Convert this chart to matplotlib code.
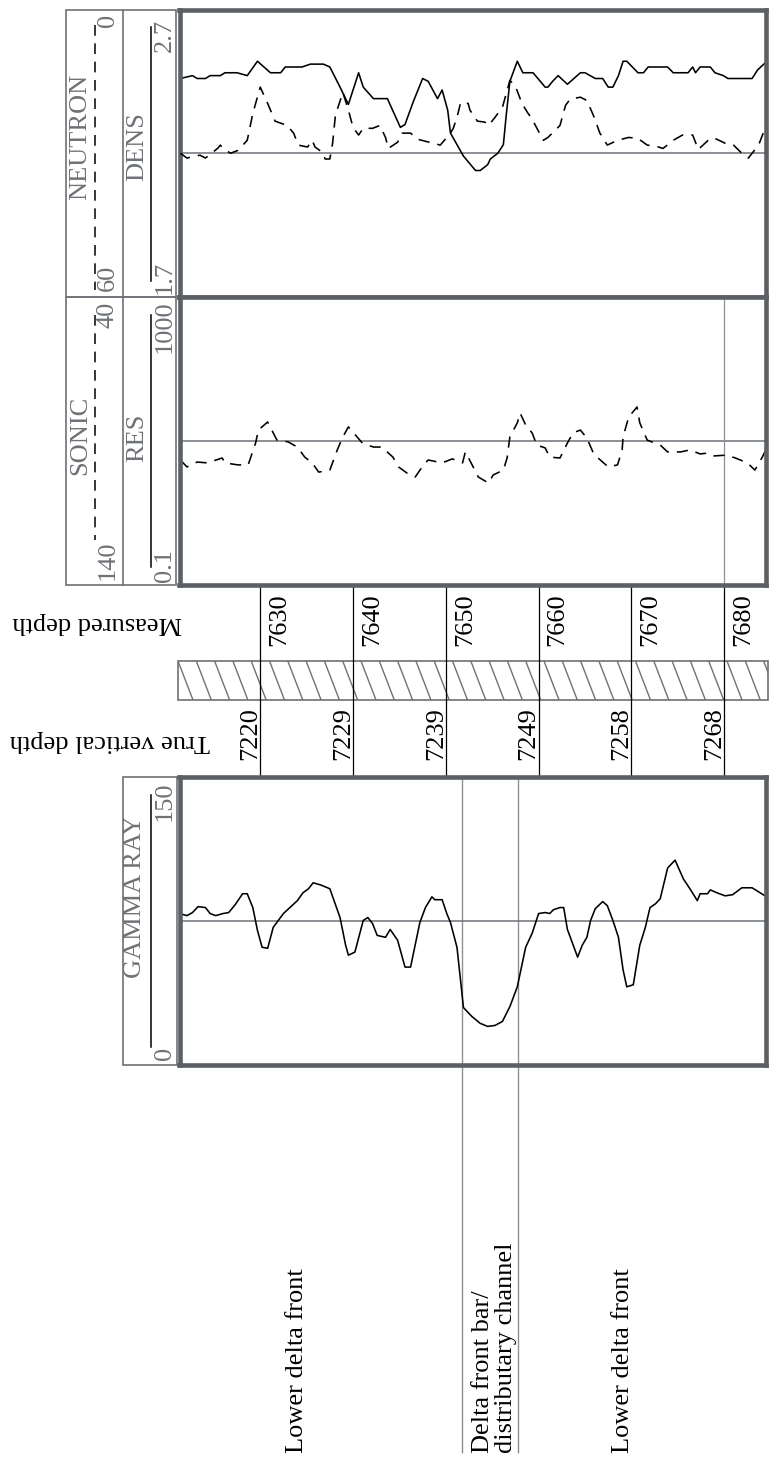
import numpy as np
import matplotlib
matplotlib.use('Agg')
import matplotlib.pyplot as plt
from matplotlib.patches import Rectangle
from matplotlib.lines import Line2D
from matplotlib.transforms import offset_copy

plt.rcParams['font.family'] = ['Liberation Serif', 'DejaVu Serif']

# ── depth scale / annotations ────────────────────────────────────────────
md_ticks = [7630, 7640, 7650, 7660, 7670, 7680]
tvd_labels = ['7220', '7229', '7239', '7249', '7258', '7268']
facies_tops = [7651.7, 7657.8]
facies_names = ['Lower delta front',
                'Delta front bar/\ndistributary channel',
                'Lower delta front']
facies_label_depth = [7634.0, 7655.2, 7669.1]

# ── density (g/cc) ───────────────────────────────────────────────────────
dens_depth = [7621.4, 7622.7, 7623.2, 7624.1, 7624.6, 7625.7, 7626.2, 7627.5,
              7628.6, 7629.7, 7631.1, 7632.2, 7632.7, 7634.5, 7635.4, 7636.8,
              7637.5, 7638.6, 7639.5, 7640.6, 7641.1, 7642.2, 7643.7, 7645.1,
              7645.6, 7646.5, 7647.5, 7648.1, 7649.1, 7649.6, 7650.2, 7650.5,
              7651.2, 7651.9, 7653.2, 7653.7, 7654.5, 7654.8, 7655.6, 7656.2,
              7656.5, 7656.9, 7657.7, 7658.3, 7659.4, 7660.7, 7661.0, 7661.5,
              7662.1, 7663.1, 7664.5, 7665.0, 7666.1, 7666.9, 7667.5, 7668.0,
              7668.6, 7669.1, 7669.5, 7670.7, 7671.3, 7671.8, 7673.9, 7674.5,
              7676.1, 7676.6, 7676.9, 7677.4, 7678.5, 7679.0, 7679.9, 7680.4,
              7683.0, 7683.6, 7684.6]
dens_val = [2.46, 2.47, 2.46, 2.46, 2.47, 2.47, 2.48, 2.48,
            2.47, 2.52, 2.48, 2.48, 2.50, 2.50, 2.51, 2.51,
            2.50, 2.43, 2.37, 2.48, 2.43, 2.39, 2.39, 2.29,
            2.30, 2.38, 2.46, 2.45, 2.39, 2.42, 2.35, 2.27,
            2.23, 2.19, 2.14, 2.14, 2.16, 2.18, 2.20, 2.23,
            2.33, 2.45, 2.52, 2.48, 2.48, 2.43, 2.43, 2.45,
            2.47, 2.44, 2.48, 2.48, 2.46, 2.46, 2.43, 2.43,
            2.47, 2.52, 2.52, 2.48, 2.48, 2.50, 2.50, 2.48,
            2.48, 2.50, 2.48, 2.50, 2.50, 2.48, 2.47, 2.46,
            2.46, 2.49, 2.52]

# ── neutron porosity (%) ─────────────────────────────────────────────────
neut_depth = [7621.4, 7622.1, 7623.5, 7624.1, 7625.4, 7625.7, 7626.0, 7626.8,
              7627.6, 7628.6, 7629.2, 7630.0, 7630.8, 7631.6, 7632.9, 7633.6,
              7634.1, 7635.1, 7635.6, 7635.9, 7636.7, 7637.0, 7637.5, 7637.8,
              7638.1, 7638.9, 7639.5, 7640.0, 7640.6, 7641.1, 7642.1, 7642.9,
              7643.5, 7643.8, 7644.8, 7645.3, 7646.2, 7647.0, 7648.6, 7649.4,
              7650.5, 7650.8, 7651.2, 7651.6, 7652.4, 7652.6, 7653.4, 7654.2,
              7654.6, 7655.3, 7656.1, 7656.6, 7656.9, 7657.5, 7658.2, 7658.8,
              7659.3, 7660.5, 7661.0, 7662.3, 7662.9, 7663.4, 7664.5, 7665.2,
              7665.9, 7666.6, 7667.4, 7668.5, 7669.7, 7670.7, 7671.7, 7672.6,
              7673.4, 7674.5, 7675.5, 7676.6, 7677.2, 7678.5, 7679.0, 7680.3,
              7681.0, 7682.0, 7682.6, 7683.0, 7683.7, 7684.2]
neut_val = [30.0, 31.0, 30.4, 31.0, 29.0, 28.3, 29.0, 30.0,
            29.4, 27.3, 21.7, 16.2, 19.6, 23.3, 24.2, 25.8,
            28.3, 28.7, 27.3, 28.7, 29.8, 31.2, 31.2, 27.9,
            22.1, 17.3, 21.0, 24.6, 26.2, 24.8, 24.8, 24.2,
            26.7, 29.0, 27.7, 25.8, 25.8, 27.1, 27.9, 28.3,
            25.8, 24.8, 22.5, 19.4, 19.6, 21.0, 23.3, 23.5,
            24.2, 22.5, 20.4, 16.9, 14.8, 16.0, 19.6, 21.5,
            22.9, 27.3, 26.7, 24.2, 20.0, 18.7, 18.3, 19.0,
            22.1, 25.8, 28.3, 27.3, 26.7, 26.9, 28.3, 28.5,
            29.0, 27.3, 26.2, 26.2, 29.2, 26.9, 26.9, 28.1,
            28.3, 30.2, 31.0, 30.0, 28.3, 25.8]

# ── sonic (us/ft) ────────────────────────────────────────────────────────
son_depth = [7621.4, 7622.1, 7623.2, 7624.3, 7625.9, 7626.2, 7627.6, 7628.7,
             7629.5, 7629.8, 7630.8, 7631.8, 7633.0, 7634.0, 7634.8, 7635.6,
             7636.3, 7637.5, 7638.3, 7638.9, 7639.5, 7641.0, 7642.2, 7643.1,
             7644.3, 7644.9, 7645.8, 7646.7, 7647.6, 7648.1, 7649.6, 7650.7,
             7651.8, 7652.1, 7652.4, 7653.5, 7654.6, 7655.1, 7656.2, 7656.6,
             7656.9, 7657.7, 7658.0, 7658.6, 7659.3, 7659.8, 7660.7, 7661.2,
             7662.3, 7663.1, 7663.7, 7664.5, 7665.2, 7665.9, 7666.4, 7667.5,
             7668.5, 7669.0, 7669.1, 7669.7, 7670.6, 7670.9, 7671.7, 7673.1,
             7673.9, 7675.3, 7676.3, 7677.4, 7678.2, 7678.8, 7680.3, 7681.2,
             7682.5, 7683.3, 7684.1, 7684.6]
son_val = [96.6, 99.0, 97.3, 97.6, 95.9, 97.6, 98.3, 98.3,
           90.7, 86.2, 83.4, 89.7, 90.3, 92.1, 95.6, 97.6,
           100.8, 100.1, 93.1, 88.6, 85.1, 90.7, 92.1, 92.1,
           95.6, 99.0, 101.1, 102.5, 98.3, 96.6, 97.6, 96.2,
           97.6, 93.8, 95.6, 102.5, 104.6, 101.8, 100.1, 95.9,
           88.6, 83.7, 80.3, 84.4, 87.2, 91.4, 92.4, 95.6,
           95.9, 90.7, 87.2, 86.2, 89.0, 94.2, 95.9, 99.0,
           98.3, 93.1, 88.6, 81.7, 78.2, 83.7, 89.7, 91.4,
           93.8, 93.8, 93.1, 94.5, 94.2, 95.2, 94.9, 95.9,
           97.6, 100.1, 95.6, 92.4]

# ── gamma ray (API) ──────────────────────────────────────────────────────
gr_depth = [7621.3, 7622.1, 7622.7, 7623.3, 7624.1, 7624.6, 7625.2, 7626.0,
            7626.6, 7627.3, 7628.1, 7628.6, 7629.2, 7629.7, 7630.2, 7630.8,
            7631.4, 7632.5, 7634.0, 7634.6, 7635.2, 7635.7, 7636.5, 7637.5,
            7638.6, 7639.2, 7639.5, 7640.2, 7641.1, 7641.6, 7642.1, 7642.6,
            7643.5, 7644.0, 7644.8, 7645.6, 7646.2, 7647.2, 7647.8, 7648.5,
            7648.8, 7649.6, 7650.1, 7650.5, 7651.2, 7651.9, 7652.8, 7653.7,
            7654.5, 7655.3, 7656.1, 7656.9, 7657.7, 7658.6, 7659.3, 7660.0,
            7660.7, 7661.2, 7661.6, 7662.3, 7662.7, 7663.1, 7664.2, 7664.7,
            7665.2, 7665.6, 7666.1, 7666.9, 7667.4, 7668.0, 7668.6, 7669.1,
            7669.5, 7670.2, 7670.9, 7671.5, 7672.0, 7672.6, 7673.1, 7673.9,
            7674.7, 7675.6, 7676.3, 7677.1, 7677.4, 7678.2, 7678.5, 7679.2,
            7680.1, 7680.9, 7681.9, 7683.0, 7683.7, 7684.4]
gr_val = [78.9, 77.8, 79.4, 82.5, 82.0, 78.9, 77.8, 78.9,
          79.4, 83.5, 89.2, 89.2, 82.0, 70.1, 61.3, 60.8,
          71.7, 78.9, 85.6, 89.7, 91.8, 94.9, 93.8, 91.8,
          76.8, 62.4, 57.2, 58.8, 75.3, 76.8, 73.7, 67.5,
          66.5, 70.6, 65.0, 51.0, 51.0, 74.2, 82.0, 87.6,
          86.1, 86.1, 78.9, 74.2, 61.3, 29.9, 25.3, 21.7,
          20.1, 20.6, 22.7, 30.4, 40.7, 61.3, 68.6, 78.9,
          79.4, 78.9, 80.9, 82.0, 82.0, 70.6, 56.2, 62.4,
          66.5, 75.3, 81.4, 85.1, 83.0, 75.3, 66.5, 49.5,
          40.7, 41.8, 62.4, 71.7, 82.0, 84.0, 86.6, 102.6,
          106.7, 96.9, 91.8, 85.6, 89.2, 89.2, 91.2, 89.7,
          88.1, 88.7, 92.3, 92.3, 90.2, 88.1]

# ── styling ──────────────────────────────────────────────────────────────
FRAME = '#5c6064'
THIN = '#6e7276'
LIGHT = '#8c9094'
TXT = '#6e7276'
FS = 19
DASH = (7, 5)
CURVE_LW = 1.15

W, H = 772, 1458
D0, D1 = 7621.3, 7684.5          # depth range shown across the tracks
TX0, TX1 = 179.5, 766            # track frame in pixels

fig = plt.figure(figsize=(W / 100, H / 100), dpi=100)


def box(x0, y0, x1, y1):
    """Axes placed by pixel box (y measured from the top)."""
    return fig.add_axes([x0 / W, 1 - y1 / H, (x1 - x0) / W, (y1 - y0) / H])


def track(y0, y1, transparent=False):
    ax = box(TX0, y0, TX1, y1)
    ax.set_xlim(D0, D1)
    ax.set_xticks([]); ax.set_yticks([])
    for s in ax.spines.values():
        s.set_linewidth(3.3); s.set_color(FRAME)
    if transparent:
        ax.patch.set_alpha(0)
    return ax


# ── background: header boxes and captions (pixel coords) ────────────────
ax_bg = box(0, 0, W, H)
ax_bg.set_xlim(0, W); ax_bg.set_ylim(H, 0); ax_bg.axis('off')

for (x0, y0, x1, y1) in [(66, 9.5, 176, 297), (66, 297, 176, 585), (123, 777, 177, 1065)]:
    ax_bg.add_patch(Rectangle((x0, y0), x1 - x0, y1 - y0, fill=False, ec=THIN, lw=1.2))
ax_bg.add_line(Line2D([123, 123], [9.5, 585], color=THIN, lw=1.2))


def htxt(x, y, s, color=TXT, rot=90, **kw):
    ax_bg.text(x, y, s, rotation=rot, ha='center', va='center', fontsize=FS, color=color, **kw)


# neutron / density header
htxt(80, 137, 'NEUTRON')
ax_bg.add_line(Line2D([95, 95], [25, 290], color='black', lw=1.1, ls=(0, DASH)))
htxt(108, 20, '0'); htxt(108, 278, '60')
htxt(137, 147, 'DENS')
ax_bg.add_line(Line2D([151, 151], [27, 281], color='black', lw=1.1))
htxt(165, 35, '2.7'); htxt(165, 277, '1.7')
# sonic / resistivity header
htxt(80, 435, 'SONIC')
ax_bg.add_line(Line2D([95, 95], [315, 540], color='black', lw=1.1, ls=(0, DASH)))
htxt(108, 315, '40'); htxt(108, 560, '140')
htxt(137, 438, 'RES')
ax_bg.add_line(Line2D([151, 151], [315, 567], color='black', lw=1.1))
htxt(165, 327, '1000'); htxt(165, 565, '0.1')
# gamma header
htxt(135, 897, 'GAMMA RAY')
ax_bg.add_line(Line2D([151, 151], [795, 1047], color='black', lw=1.1))
htxt(165, 801, '150'); htxt(165, 1053, '0')

# depth captions (upside down)
htxt(97, 623, 'Measured depth', color='black', rot=180)
htxt(110, 741, 'True vertical depth', color='black', rot=180)

# hatched depth bar
bar = Rectangle((178, 661), 590, 39, fc='white', ec=THIN, lw=1.2)
ax_bg.add_patch(bar)
for hx in np.arange(178 - 18.3, 768, 18.3):
    ln = Line2D([hx, hx + 15], [661, 700], color=THIN, lw=1.0)
    ax_bg.add_line(ln)
    ln.set_clip_path(bar)

# ── facies lines and labels ──────────────────────────────────────────────
ax_fac = box(TX0, 777, TX1, H)
ax_fac.set_xlim(D0, D1); ax_fac.set_ylim(H, 777); ax_fac.axis('off')
ax_fac.vlines(facies_tops, 777, 1453, color=LIGHT, lw=1.0)
for d, name in zip(facies_label_depth, facies_names):
    ax_fac.text(d, 1453, name, rotation=90, ha='center', va='bottom',
                multialignment='left', linespacing=1.05, fontsize=FS)

# ── depth column ─────────────────────────────────────────────────────────
ax_dep = box(TX0, 585, TX1, 777)
ax_dep.set_xlim(D0, D1); ax_dep.set_ylim(777, 585); ax_dep.axis('off')
ax_dep.vlines(md_ticks, 585, 777, color='black', lw=0.9)
tr_md = offset_copy(ax_dep.transData, fig=fig, x=19, y=0, units='dots')
tr_tvd = offset_copy(ax_dep.transData, fig=fig, x=-10, y=0, units='dots')
for d, tv in zip(md_ticks, tvd_labels):
    ax_dep.text(d, 620, str(d), transform=tr_md, rotation=90,
                ha='center', va='center', fontsize=FS)
    ax_dep.text(d, 734, tv, transform=tr_tvd, rotation=90,
                ha='center', va='center', fontsize=FS)

# ── neutron / density track ──────────────────────────────────────────────
ax_nd = track(9.5, 297)
ax_nd.set_ylim(1.7, 2.7)
ax_nd.axhline(2.2, color=THIN, lw=1.1)
ax_nd.plot(dens_depth, dens_val, color='black', lw=CURVE_LW)
ax_n = ax_nd.twinx()
ax_n.set_ylim(60, 0); ax_n.set_yticks([])
for s in ax_n.spines.values():
    s.set_visible(False)
ax_n.plot(neut_depth, neut_val, color='black', lw=CURVE_LW, ls=(0, DASH))

# ── sonic / resistivity track ────────────────────────────────────────────
ax_sr = track(297, 585)
ax_sr.set_ylim(140, 40)
ax_sr.axhline(90, color=THIN, lw=1.1)
ax_sr.axvline(md_ticks[-1], color=LIGHT, lw=0.9)
ax_sr.plot(son_depth, son_val, color='black', lw=CURVE_LW, ls=(0, DASH))

# ── gamma ray track ──────────────────────────────────────────────────────
ax_gr = track(777, 1065, transparent=True)
ax_gr.set_ylim(0, 150)
ax_gr.axhline(75, color=THIN, lw=1.1)
ax_gr.plot(gr_depth, gr_val, color='black', lw=CURVE_LW)

fig.savefig('out.png', dpi=100)
